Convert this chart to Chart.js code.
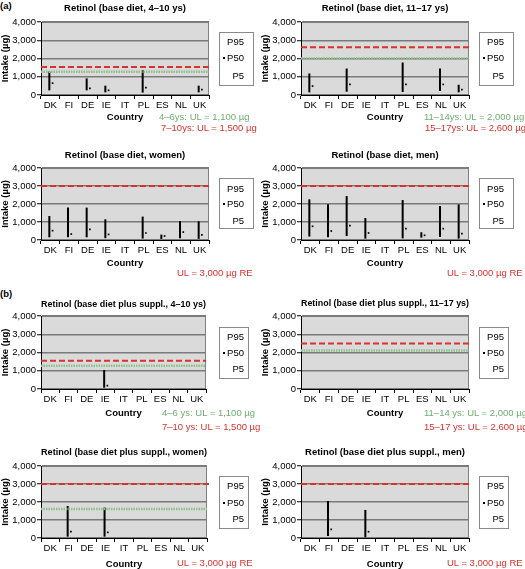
<!DOCTYPE html>
<html>
<head>
<meta charset="utf-8">
<script src="https://cdn.jsdelivr.net/npm/chart.js@4/dist/chart.umd.min.js"></script>
<style>
    html, body { margin: 0; padding: 0; background: #fff; overflow: hidden; }
    body { width: 525px; height: 569px; position: relative; font-family: "Liberation Sans", Arial, sans-serif; font-size: 9.5px; color: #000; }
    canvas { position: absolute; }
    .tag { position: absolute; font-weight: bold; line-height: 11px; }
    .note { position: absolute; white-space: nowrap; line-height: 11px; }
    .green { color: #6fae6f; }
    .red { color: #d8322c; }
    .legend { position: absolute; background: #fff; border: 1px solid #8a8a8a; box-sizing: border-box; }
    .legend span { position: absolute; line-height: 11px; }
    .legend i { position: absolute; width: 2px; height: 2px; background: #000; }
</style>
</head>
<body>

<div class="tag" style="left:0px; top:0px;">(a)</div>
<div class="tag" style="left:0px; top:288px;">(b)</div>

<script>
// ---- data ----
const countries = ['DK', 'FI', 'DE', 'IE', 'IT', 'PL', 'ES', 'NL', 'UK']

// (a) base diet
const p5Kids = [255, null, 255, 145, null, 130, null, null, 145]
const p50Kids = [650, null, 360, 255, null, 400, null, null, 290]
const p95Kids = [1290, null, 910, 510, null, 1360, null, null, 510]

const p5Teens = [145, null, 180, null, null, 165, null, 220, 145]
const p50Teens = [490, null, 580, null, null, 580, null, 580, 290]
const p95Teens = [1180, null, 1450, null, null, 1780, null, 1450, 560]

const p5Women = [150, 150, 150, 100, null, 80, 60, 100, 60]
const p50Women = [520, 330, 590, 310, null, 390, 220, 440, 280]
const p95Women = [1330, 1800, 1800, 1150, null, 1300, 300, 1050, 1040]

const p5Men = [190, 150, 220, 75, null, 90, 130, 170, 75]
const p50Men = [760, 500, 800, 390, null, 630, 260, 630, 350]
const p95Men = [2260, 1980, 2440, 1220, null, 2220, 430, 1890, 1980]

// (b) base diet plus supplements
const p5KidsSup = [null, null, null, 70, null, null, null, null, null]
const p50KidsSup = [null, null, null, 185, null, null, null, null, null]
const p95KidsSup = [null, null, null, 1040, null, null, null, null, null]

const p5TeensSup = [null, null, null, null, null, null, null, null, null]
const p50TeensSup = [null, null, null, null, null, null, null, null, null]
const p95TeensSup = [null, null, null, null, null, null, null, null, null]

const p5WomenSup = [null, 75, null, 75, null, null, null, null, null]
const p50WomenSup = [null, 350, null, 315, null, null, null, null, null]
const p95WomenSup = [null, 1780, null, 1690, null, null, null, null, null]

const p5MenSup = [null, 110, null, 40, null, null, null, null, null]
const p50MenSup = [null, 480, null, 350, null, null, null, null, null]
const p95MenSup = [null, 2050, null, 1560, null, null, null, null, null]

// upper limit lines as drawn (green dotted, red dashed)
const ulGreen = [1270, 2000, null, null, 1280, 2110, 1610, null]
const ulRed = [1530, 2620, 3000, 3000, 1550, 2500, 3000, 3000]

const yTicks = [0, 1000, 2000, 3000, 4000]

const titles = [
    'Retinol (base diet, 4\u201310 ys)',
    'Retinol (base diet, 11\u201317 ys)',
    'Retinol (base diet, women)',
    'Retinol (base diet, men)',
    'Retinol (base diet plus suppl., 4\u201310 ys)',
    'Retinol (base diet plus suppl., 11\u201317 ys)',
    'Retinol (base diet plus suppl., women)',
    'Retinol (base diet plus suppl., men)'
]

const series = [
    [p5Kids, p50Kids, p95Kids],
    [p5Teens, p50Teens, p95Teens],
    [p5Women, p50Women, p95Women],
    [p5Men, p50Men, p95Men],
    [p5KidsSup, p50KidsSup, p95KidsSup],
    [p5TeensSup, p50TeensSup, p95TeensSup],
    [p5WomenSup, p50WomenSup, p95WomenSup],
    [p5MenSup, p50MenSup, p95MenSup]
]

// ---- layout (page pixels) ----
const CANVAS_W = 216
const layout = [
    { x0: 0,   titleY: 9,   plotTop: 22,  plotBottom: 95,  plotRight: 209, countryY: 117, lineEnd: 8.5 },
    { x0: 260, titleY: 9,   plotTop: 22,  plotBottom: 95,  plotRight: 209, countryY: 117, lineEnd: 8.5 },
    { x0: 0,   titleY: 156, plotTop: 168, plotBottom: 240, plotRight: 209, countryY: 263, lineEnd: 8.5 },
    { x0: 260, titleY: 156, plotTop: 168, plotBottom: 240, plotRight: 209, countryY: 263, lineEnd: 8.5 },
    { x0: 0,   titleY: 305, plotTop: 316, plotBottom: 389, plotRight: 206, countryY: 413, lineEnd: 8.5 },
    { x0: 260, titleY: 304, plotTop: 316, plotBottom: 389, plotRight: 209, countryY: 413, lineEnd: 8.5 },
    { x0: 0,   titleY: 453, plotTop: 466, plotBottom: 538, plotRight: 207, countryY: 564, lineEnd: 8.77 },
    { x0: 260, titleY: 453, plotTop: 466, plotBottom: 538, plotRight: 209, countryY: 564, lineEnd: 8.66 }
]

const notes = [
    [['green', '4\u20136ys: UL = 1,100 \u00b5g', 159, 117], ['red', '7\u201310ys: UL = 1,500 \u00b5g', 161, 128]],
    [['green', '11\u201314ys: UL = 2,000 \u00b5g', 424, 117], ['red', '15\u201317ys: UL = 2,600 \u00b5g', 425, 128]],
    [['red', 'UL = 3,000 \u00b5g RE', 177, 273]],
    [['red', 'UL = 3,000 \u00b5g RE', 447, 273]],
    [['green', '4\u20136 ys: UL = 1,100 \u00b5g', 162, 413], ['red', '7\u201310 ys: UL = 1,500 \u00b5g', 162, 427]],
    [['green', '11\u201314 ys: UL = 2,000 \u00b5g', 424, 413], ['red', '15\u201317 ys: UL = 2,600 \u00b5g', 424, 427]],
    [['red', 'UL = 3,000 \u00b5g RE', 177, 563]],
    [['red', 'UL = 3,000 \u00b5g RE', 447, 563]]
]

// legend boxes: left, top, width, height, row centers
const legends = [
    [219, 32, 35, 54, [42, 58, 76]],
    [479, 32, 35, 54, [42, 58, 76]],
    [219, 178, 35, 51, [189, 204, 221]],
    [479, 178, 35, 51, [189, 204, 221]],
    [219, 327, 30, 52, [337, 353, 369]],
    [479, 327, 30, 52, [337, 353, 369]],
    [219, 476, 30, 53, [486, 503, 519]],
    [479, 476, 30, 53, [486, 503, 519]]
]

const FONT = { family: '"Liberation Sans", Arial, sans-serif', size: 9.5 }
const FONT_B = { family: '"Liberation Sans", Arial, sans-serif', size: 9.5, weight: 'bold' }
const LINE_H = 11.4

const plotBg = {
    id: 'plotBg',
    beforeDraw(chart) {
        const a = chart.chartArea
        const ctx = chart.ctx
        ctx.save()
        ctx.fillStyle = '#dadada'
        ctx.fillRect(a.left, a.top, a.width, a.height)
        ctx.strokeStyle = '#808080'
        ctx.lineWidth = 1
        ctx.strokeRect(a.left + 0.5, a.top + 0.5, a.width - 1, a.height - 1)
        ctx.restore()
    }
}

function addNotes(list)
{
    list.forEach(function (n) {
        const d = document.createElement('div')
        d.className = 'note ' + n[0]
        d.textContent = n[1]
        d.style.left = n[2] + 'px'
        d.style.top = (n[3] - 6) + 'px'
        document.body.appendChild(d)
    })
}

function addLegend(l)
{
    const box = document.createElement('div')
    box.className = 'legend'
    box.style.left = l[0] + 'px'
    box.style.top = l[1] + 'px'
    box.style.width = l[2] + 'px'
    box.style.height = l[3] + 'px'
    const names = ['P95', 'P50', 'P5']
    names.forEach(function (name, k) {
        const s = document.createElement('span')
        s.textContent = name
        s.style.right = (l[2] - 26) + 'px'
        s.style.top = (l[4][k] - l[1] - 7) + 'px'
        box.appendChild(s)
    })
    const dot = document.createElement('i')
    dot.style.left = '3px'
    dot.style.top = (l[4][1] - l[1] - 2) + 'px'
    box.appendChild(dot)
    document.body.appendChild(box)
}

function setPanel(idx)
{
    const p = layout[idx]
    const [p5, p50, p95] = series[idx]
    const top = Math.round(p.titleY - LINE_H / 2)
    const bottom = p.countryY + LINE_H / 2
    const height = Math.round(bottom - top)
    const xh = top + height - p.plotBottom

    const canvas = document.createElement('canvas')
    canvas.width = CANVAS_W
    canvas.height = height
    canvas.style.left = p.x0 + 'px'
    canvas.style.top = top + 'px'
    canvas.style.width = CANVAS_W + 'px'
    canvas.style.height = height + 'px'
    document.body.appendChild(canvas)

    const datasets = [{
        type: 'bar',
        data: p5.map((lo, i) => lo == null ? null : [lo, p95[i]]),
        backgroundColor: '#000',
        barThickness: 2,
        inflateAmount: 0,
        xAxisID: 'x',
        yAxisID: 'y',
        order: 3
    }, {
        type: 'scatter',
        data: p50.map((v, i) => v == null ? null : { x: i + 0.12, y: v }).filter(v => v),
        pointStyle: 'rect',
        pointRadius: 1.2,
        backgroundColor: '#000',
        borderColor: '#000',
        borderWidth: 0,
        xAxisID: 'xp',
        yAxisID: 'y',
        order: 2
    }]

    if (ulGreen[idx] != null) {
        datasets.push({
            type: 'line',
            data: [{ x: -0.5, y: ulGreen[idx] }, { x: 8.5, y: ulGreen[idx] }],
            borderColor: '#8cbf8c',
            borderWidth: 2.5,
            borderDash: [1.5, 1],
            pointRadius: 0,
            xAxisID: 'xp',
            yAxisID: 'y',
            order: 1
        })
    }
    if (ulRed[idx] != null) {
        datasets.push({
            type: 'line',
            data: [{ x: -0.5, y: ulRed[idx] }, { x: p.lineEnd, y: ulRed[idx] }],
            borderColor: '#d8322c',
            borderWidth: 2,
            borderDash: [6, 3],
            pointRadius: 0,
            clip: false,
            xAxisID: 'xp',
            yAxisID: 'y',
            order: 0
        })
    }

    new Chart(canvas, {
        type: 'bar',
        data: { labels: countries, datasets: datasets },
        plugins: [plotBg],
        options: {
            responsive: false,
            animation: false,
            devicePixelRatio: 1,
            layout: { padding: { top: 0, right: CANVAS_W - p.plotRight, bottom: 0, left: 0 } },
            plugins: {
                legend: { display: false },
                tooltip: { enabled: false },
                title: {
                    display: true,
                    text: titles[idx],
                    fullSize: false,
                    color: '#000',
                    font: FONT_B,
                    padding: { top: 0, bottom: p.plotTop - top - LINE_H }
                }
            },
            scales: {
                x: {
                    type: 'category',
                    offset: true,
                    grid: { offset: true, drawOnChartArea: false, drawTicks: true, tickLength: 4, tickColor: '#000', color: '#000' },
                    border: { color: '#000' },
                    ticks: { color: '#000', font: FONT, padding: 1, maxRotation: 0, autoSkip: false },
                    title: { display: true, text: 'Country', color: '#000', font: FONT_B, padding: { top: 0, bottom: 0 } },
                    afterFit: function (s) { s.height = xh }
                },
                xp: {
                    type: 'linear',
                    display: false,
                    offset: false,
                    grid: { offset: false },
                    bounds: 'data',
                    grace: 0,
                    min: -0.5,
                    max: 8.5
                },
                y: {
                    min: 0,
                    max: 4000,
                    afterBuildTicks: function (s) { s.ticks = yTicks.map(v => ({ value: v })) },
                    ticks: { color: '#000', font: FONT, padding: 1, callback: v => v.toLocaleString('en-US') },
                    grid: { color: '#7a7a7a', lineWidth: 1.5, tickColor: '#000', tickWidth: 1, tickLength: 4 },
                    border: { color: '#000', width: 1 },
                    title: { display: true, text: 'Intake (\u00b5g)', color: '#000', font: FONT_B, padding: { top: 0, bottom: 0 } },
                    afterFit: function (s) { s.width = 41 }
                }
            }
        }
    })

    addNotes(notes[idx])
    addLegend(legends[idx])
}

for (let i = 0; i < layout.length; i++) setPanel(i)
</script>
</body>
</html>
